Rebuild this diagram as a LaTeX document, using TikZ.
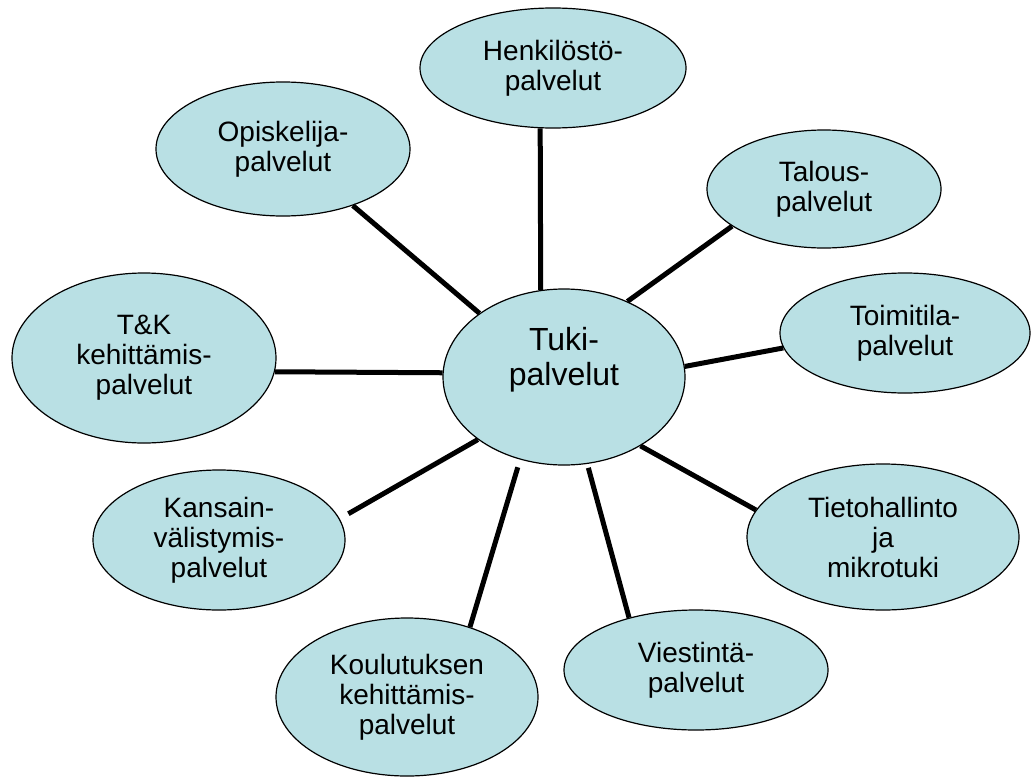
\documentclass[tikz,border=0pt]{standalone}
\usepackage{fontspec}
\setmainfont{Liberation Sans}
\usepackage{tikz}
\usetikzlibrary{shapes.geometric}
\definecolor{bubblefill}{RGB}{185,224,228}
\tikzset{
    bubble/.style 2 args={ellipse, draw, fill=bubblefill, line width=1.2pt,
    	minimum width=#1, minimum height=#2, inner sep=0pt, align=center,
    	font=\fontsize{28}{30}\selectfont}
}
\tikzset{
    spoke/.style={line width=5pt}
}

\begin{document}
\begin{tikzpicture}[x=1pt,y=-1pt]
  \useasboundingbox (0,0) rectangle (1032,776);

  \node (tuki) [bubble={242pt}{176pt}] at (564,377) {};
  \node (tukitext) [font=\fontsize{32}{35}\selectfont, align=center]
  	at ([yshift=17pt]tuki.center) {Tuki-\\palvelut};

  \node (henk) [bubble={266pt}{120pt}] at (553,68) {Henkilöstö-\\palvelut};
  \node (opis) [bubble={254pt}{134pt}] at (283,149) {Opiskelija-\\palvelut};
  \node (talous) [bubble={234pt}{118pt}] at (824,189) {Talous-\\palvelut};
  \node (toimi) [bubble={250pt}{120pt}] at (905,333) {Toimitila-\\palvelut};
  \node (tk) [bubble={264pt}{170pt}] at (144,358) {T\&K\\kehittämis-\\palvelut};
  \node (tieto) [bubble={272pt}{146pt}] at (883,537) {Tietohallinto\\ja\\mikrotuki};
  \node (kans) [bubble={252pt}{140pt}] at (219,540) {Kansain-\\välistymis-\\palvelut};
  \node (viest) [bubble={264pt}{120pt}] at (696,670) {Viestintä-\\palvelut};
  \node (koul) [bubble={262pt}{158pt}] at (407,697) {Koulutuksen\\kehittämis-\\palvelut};

  \draw [spoke] (henk.-102) -- (tuki.105);
  \draw [spoke] (opis.-39) -- (tuki.143);
  \draw [spoke] (talous.202) -- (tuki.50);
  \draw [spoke] (toimi.187) -- (tuki.5);
  \draw [spoke] (tk.-6) -- (tuki.178);
  \draw [spoke] (tieto.168) -- (tuki.-42);
  \draw [spoke, shorten <=10pt] (kans.10) -- (tuki.216);
  \draw [spoke, shorten >=8pt] (koul.48) -- (tuki.-118);
  \draw [spoke, shorten >=4pt] (viest.142) -- (tuki.-75);
\end{tikzpicture}
\end{document}
